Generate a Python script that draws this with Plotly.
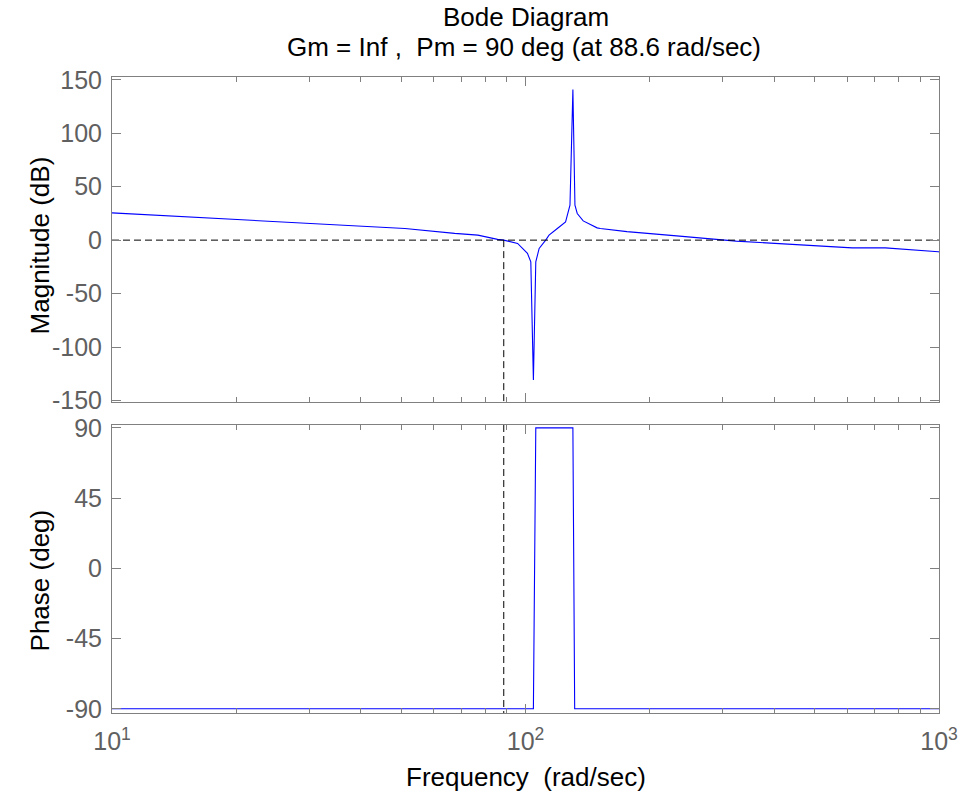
import plotly.graph_objects as go

# ---- data ----
freq_mag = [10, 26.8, 51.1, 67.4, 76.7, 85.6, 88.6, 95.7, 101.1, 103.0, 104.5,
            105.9, 107.9, 111.9, 114.0, 119.4, 125.0, 128.1, 130.2, 131.7, 133.4,
            137.9, 149.0, 151.7, 175.9, 232.0, 284.1, 323.3, 616.8, 741.8, 996, 1000]
mag_db = [25.5, 17.1, 10.9, 6.3, 4.7, 0.7, 0.0, -3.1, -12.4, -20.3, -130.8,
          -20.3, -7.8, 0.0, 4.7, 10.9, 17.1, 32.7, 140.8, 32.7, 24.9,
          18.0, 11.5, 10.9, 8.0, 4.0, 0.9, -0.9, -7.2, -7.2, -10.9, -11.0]

freq_ph = [10, 104.5, 105.9, 130.2, 131.5, 1000]
phase_deg = [-90, -90, 90, 90, -90, -90]

wc = 88.6  # crossover frequency (rad/sec)
mag_ticks = [-150, -100, -50, 0, 50, 100, 150]
mag_ticktext = ["-150", "-100", "-50", "0", "50", "100", "150"]
ph_ticks = [-90, -45, 0, 45, 90]
ph_ticktext = ["-90", "-45", "0", "45", "90"]
x_ticks = [10, 100, 1000]
x_ticktext = ["10<sup>1</sup>", "10<sup>2</sup>", "10<sup>3</sup>"]
x_minor = [m * d for d in (10, 100) for m in range(2, 10)]

mag_range = [-151.1, 152.6]
ph_range = [-92.7, 91.8]

title1 = "Bode Diagram"
title2 = "Gm = Inf ,  Pm = 90 deg (at 88.6 rad/sec)"
xlabel = "Frequency  (rad/sec)"
ylabel1 = "Magnitude (dB)"
ylabel2 = "Phase (deg)"

BLUE = "#0000ff"
AX = "#808080"
TICKC = "#606060"
FONT = "Liberation Sans, Arial, sans-serif"

W, H = 970, 803
L, R, T, B = 112, 26, 77, 90
PW, PH = W - L - R, H - T - B

fig = go.Figure()

fig.add_trace(go.Scatter(x=freq_mag, y=mag_db, mode="lines",
                         line=dict(color=BLUE, width=1.1),
                         xaxis="x", yaxis="y", hoverinfo="skip"))
fig.add_trace(go.Scatter(x=[10, 1000], y=[0, 0], mode="lines",
                         line=dict(color="black", width=1, dash="7px,4px"),
                         xaxis="x", yaxis="y", hoverinfo="skip"))
fig.add_trace(go.Scatter(x=[wc, wc], y=[0, mag_range[0]], mode="lines",
                         line=dict(color="black", width=1, dash="7px,4px"),
                         xaxis="x", yaxis="y", hoverinfo="skip"))
fig.add_trace(go.Scatter(x=freq_ph, y=phase_deg, mode="lines",
                         line=dict(color=BLUE, width=1.1),
                         xaxis="x2", yaxis="y2", hoverinfo="skip"))
fig.add_trace(go.Scatter(x=[wc, wc], y=[ph_range[1], ph_range[0] - 1.5], mode="lines",
                         line=dict(color="black", width=1, dash="7px,4px"),
                         xaxis="x2", yaxis="y2", hoverinfo="skip", cliponaxis=False))

common_x = dict(type="log", range=[1, 3], showline=True, linecolor=AX, linewidth=1,
                mirror="ticks", ticks="inside", ticklen=9, tickcolor=AX, tickwidth=1,
                tickvals=x_ticks, showgrid=False, zeroline=False,
                minor=dict(ticks="inside", ticklen=5, tickcolor=AX, tickwidth=1,
                           tickmode="array", tickvals=x_minor, showgrid=False),
                tickfont=dict(family=FONT, size=25, color=TICKC))
common_y = dict(showline=True, linecolor=AX, linewidth=1, mirror="ticks",
                ticks="inside", ticklen=9, tickcolor=AX, tickwidth=1,
                showgrid=False, zeroline=False, ticklabelstandoff=4,
                tickfont=dict(family=FONT, size=25, color=TICKC))


def ann(text, px, py, angle=None, size=26):
    d = dict(text=text, x=(px - L) / PW, y=(H - B - py) / PH,
             xref="paper", yref="paper", showarrow=False,
             xanchor="center", yanchor="middle",
             font=dict(family=FONT, size=size, color="black"))
    if angle is not None:
        d["textangle"] = angle
    return d


fig.update_layout(
    width=W, height=H,
    margin=dict(l=L, r=R, t=T, b=B),
    paper_bgcolor="white", plot_bgcolor="white",
    showlegend=False,
    xaxis=dict(common_x, domain=[0, 1], anchor="y", showticklabels=False),
    yaxis=dict(common_y, domain=[0.4895, 1], anchor="x", range=mag_range,
               tickvals=mag_ticks, ticktext=mag_ticktext),
    xaxis2=dict(common_x, domain=[0, 1], anchor="y2", showticklabels=True,
                ticktext=x_ticktext, ticklabelstandoff=6),
    yaxis2=dict(common_y, domain=[0, 0.4528], anchor="x2", range=ph_range,
                tickvals=ph_ticks, ticktext=ph_ticktext),
    font=dict(family=FONT, color="black"),
    annotations=[
        ann(title1, 528, 17),
        ann(title2, 526, 47),
        ann(xlabel, 528, 777),
        ann(ylabel1, 40, 245, -90),
        ann(ylabel2, 40, 580, -90),
    ],
)

fig.write_html("out.html")
